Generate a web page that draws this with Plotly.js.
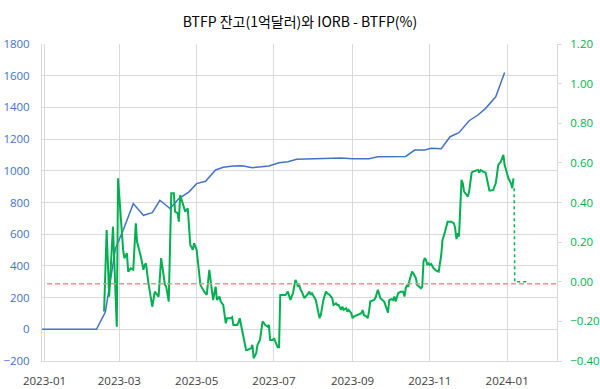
<!DOCTYPE html>
<html>
<head>
<meta charset="utf-8">
<script src="https://cdn.plot.ly/plotly-3.0.1.min.js"></script>
<style>html,body{margin:0;padding:0;background:#fff;}#chart{width:600px;height:389px;}</style>
</head>
<body>
<div id="chart"></div>
<script>
// BTFP balance (units: 100M USD), left axis
const btfpDates = ['2022-12-30','2023-01-11','2023-01-25','2023-02-11','2023-02-18','2023-02-26','2023-03-04','2023-03-12','2023-03-20','2023-03-27','2023-04-02','2023-04-10','2023-04-17','2023-04-25','2023-05-01','2023-05-08','2023-05-16','2023-05-22','2023-05-30','2023-06-06','2023-06-14','2023-06-20','2023-06-27','2023-07-05','2023-07-12','2023-07-19','2023-07-27','2023-08-09','2023-08-23','2023-09-01','2023-09-14','2023-09-21','2023-10-13','2023-10-20','2023-10-28','2023-11-02','2023-11-10','2023-11-17','2023-11-24','2023-12-02','2023-12-09','2023-12-15','2023-12-23','2023-12-30'];
const btfpValues = [0,0,0,0,109,510,625,793,719,736,814,762,825,867,919,934,1005,1022,1030,1032,1020,1024,1030,1051,1057,1073,1074,1076,1081,1076,1076,1089,1091,1131,1131,1142,1139,1215,1240,1316,1352,1394,1467,1620];

// IORB - BTFP spread (%), right axis
const spreadDates = ['2023-02-17','2023-02-19','2023-02-21','2023-02-24','2023-02-27','2023-02-28','2023-03-04','2023-03-05','2023-03-07','2023-03-08','2023-03-10','2023-03-12','2023-03-14','2023-03-15','2023-03-18','2023-03-20','2023-03-21','2023-03-22','2023-03-24','2023-03-27','2023-03-29','2023-03-31','2023-04-01','2023-04-03','2023-04-06','2023-04-07','2023-04-09','2023-04-11','2023-04-13','2023-04-14','2023-04-16','2023-04-17','2023-04-18','2023-04-20','2023-04-22','2023-04-24','2023-04-26','2023-04-28','2023-04-29','2023-05-01','2023-05-04','2023-05-07','2023-05-09','2023-05-11','2023-05-12','2023-05-14','2023-05-16','2023-05-17','2023-05-19','2023-05-20','2023-05-22','2023-05-24','2023-05-25','2023-05-28','2023-05-29','2023-05-30','2023-06-02','2023-06-03','2023-06-04','2023-06-06','2023-06-07','2023-06-09','2023-06-10','2023-06-13','2023-06-14','2023-06-15','2023-06-17','2023-06-18','2023-06-20','2023-06-22','2023-06-23','2023-06-24','2023-06-26','2023-06-27','2023-06-28','2023-06-30','2023-07-01','2023-07-04','2023-07-05','2023-07-06','2023-07-08','2023-07-10','2023-07-12','2023-07-14','2023-07-15','2023-07-16','2023-07-18','2023-07-20','2023-07-21','2023-07-22','2023-07-23','2023-07-25','2023-07-27','2023-07-29','2023-07-30','2023-07-31','2023-08-03','2023-08-04','2023-08-06','2023-08-07','2023-08-09','2023-08-11','2023-08-12','2023-08-14','2023-08-16','2023-08-17','2023-08-19','2023-08-20','2023-08-21','2023-08-23','2023-08-24','2023-08-25','2023-08-27','2023-08-28','2023-08-29','2023-08-31','2023-09-01','2023-09-02','2023-09-05','2023-09-08','2023-09-09','2023-09-10','2023-09-12','2023-09-13','2023-09-14','2023-09-15','2023-09-18','2023-09-19','2023-09-21','2023-09-22','2023-09-23','2023-09-26','2023-09-27','2023-09-29','2023-09-30','2023-10-02','2023-10-03','2023-10-04','2023-10-05','2023-10-07','2023-10-09','2023-10-11','2023-10-12','2023-10-13','2023-10-14','2023-10-15','2023-10-16','2023-10-18','2023-10-19','2023-10-20','2023-10-21','2023-10-22','2023-10-24','2023-10-25','2023-10-26','2023-10-27','2023-10-28','2023-10-29','2023-10-30','2023-10-31','2023-11-01','2023-11-02','2023-11-04','2023-11-06','2023-11-08','2023-11-10','2023-11-11','2023-11-12','2023-11-13','2023-11-15','2023-11-16','2023-11-18','2023-11-20','2023-11-21','2023-11-22','2023-11-23','2023-11-24','2023-11-25','2023-11-26','2023-11-27','2023-11-28','2023-11-30','2023-12-01','2023-12-02','2023-12-03','2023-12-04','2023-12-05','2023-12-07','2023-12-09','2023-12-10','2023-12-11','2023-12-12','2023-12-13','2023-12-15','2023-12-16','2023-12-18','2023-12-19','2023-12-21','2023-12-23','2023-12-24','2023-12-25','2023-12-27','2023-12-29','2023-12-30','2023-12-31','2024-01-01','2024-01-02','2024-01-04','2024-01-05','2024-01-06'];
const spreadValues = [-0.15,0.261,-0.075,0.278,-0.227,0.522,0.161,0.119,0.144,0.051,0.068,0.06,0.295,0.202,0.127,0.06,0.085,0.093,-0.008,-0.126,-0.05,-0.067,-0.075,0.119,-0.016,-0.025,-0.1,0.447,0.447,0.354,0.346,0.303,0.438,0.396,0.354,0.371,0.186,0.161,0.194,0.161,-0.016,-0.05,-0.067,0.06,0.009,-0.092,-0.025,-0.092,-0.075,-0.1,-0.117,-0.21,-0.184,-0.184,-0.179,-0.218,-0.218,-0.206,-0.184,-0.243,-0.269,-0.344,-0.344,-0.336,-0.319,-0.386,-0.361,-0.319,-0.294,-0.201,-0.206,-0.218,-0.227,-0.218,-0.294,-0.294,-0.285,-0.331,-0.331,-0.067,-0.067,-0.067,-0.05,-0.092,-0.075,-0.058,0.009,-0.025,-0.016,-0.041,-0.05,-0.083,-0.067,-0.05,-0.067,-0.058,-0.092,-0.126,-0.184,-0.168,-0.092,-0.05,-0.058,-0.067,-0.083,-0.117,-0.109,-0.117,-0.117,-0.142,-0.126,-0.142,-0.134,-0.151,-0.142,-0.159,-0.184,-0.176,-0.168,-0.159,-0.142,-0.168,-0.176,-0.184,-0.151,-0.1,-0.092,-0.083,-0.041,-0.067,-0.083,-0.1,-0.117,-0.156,-0.092,-0.088,-0.092,-0.075,-0.1,-0.058,-0.05,-0.05,-0.075,-0.033,-0.016,-0.025,0.009,0.051,0.043,0.026,0.018,-0.016,-0.025,-0.033,-0.025,0.101,0.119,0.11,0.085,0.093,0.085,0.09,0.068,0.056,0.051,0.135,0.211,0.228,0.253,0.303,0.303,0.303,0.295,0.27,0.215,0.245,0.228,0.43,0.514,0.497,0.455,0.438,0.43,0.455,0.514,0.551,0.556,0.559,0.564,0.551,0.564,0.561,0.556,0.551,0.514,0.46,0.46,0.463,0.497,0.548,0.59,0.606,0.64,0.59,0.564,0.539,0.522,0.497,0.472,0.522];

// Tail of the spread after the BTFP rate change (dotted)
const tailDates = ['2024-01-06 12:00','2024-01-07','2024-01-17'];
const tailValues = [0.472,0,0];

// Reference line (right axis)
const refDates = ['2023-01-03','2024-02-09'];
const refValues = [-0.01,-0.01];

const titleText = 'BTFP 잔고(1억달러)와 IORB - BTFP(%)';
const xRange = ['2022-12-30','2024-02-09 08:00'];

const tickFontFamily = '"Open Sans", "Noto Sans", sans-serif';

const traces = [
  {x: btfpDates, y: btfpValues, type: 'scatter', mode: 'lines', yaxis: 'y',
   line: {color: '#4472C4', width: 1.5}, hoverinfo: 'skip'},
  {x: spreadDates, y: spreadValues, type: 'scatter', mode: 'lines', yaxis: 'y2',
   line: {color: '#00B050', width: 2}, hoverinfo: 'skip'},
  {x: tailDates, y: tailValues, type: 'scatter', mode: 'lines', yaxis: 'y2',
   line: {color: '#00B050', width: 1.5, dash: 'dot'}, hoverinfo: 'skip'},
  {x: refDates, y: refValues, type: 'scatter', mode: 'lines', yaxis: 'y2',
   line: {color: '#F0908C', width: 1.5, dash: '5px,3px'}, hoverinfo: 'skip'}
];

const layout = {
  width: 600, height: 389,
  margin: {l: 42, r: 43, t: 44, b: 28, pad: 0},
  paper_bgcolor: '#ffffff', plot_bgcolor: '#ffffff',
  showlegend: false,
  title: {text: titleText, x: 0.5, xref: 'container', xanchor: 'center',
          y: 1 - 22/389, yref: 'container', yanchor: 'middle',
          font: {family: '"Noto Sans CJK KR", sans-serif', size: 14, color: '#000000'}},
  xaxis: {type: 'date', range: xRange, tick0: '2023-01-01', dtick: 'M2', tickformat: '%Y-%m',
          showgrid: true, gridcolor: '#D9D9D9', gridwidth: 1, showline: true, linecolor: '#D9D9D9',
          ticks: '', ticklabelstandoff: 9, zeroline: false,
          tickfont: {family: tickFontFamily, size: 11.5, color: '#404040'}},
  yaxis: {range: [-200, 1800], dtick: 200, showgrid: true, gridcolor: '#D9D9D9', gridwidth: 1,
          zeroline: false, showline: true, linecolor: '#D9D9D9', ticks: '', ticklabelstandoff: 9,
          tickfont: {family: tickFontFamily, size: 11.5, color: '#4472C4'}},
  yaxis2: {overlaying: 'y', side: 'right', range: [-0.4, 1.2], dtick: 0.2, tickformat: '.2f',
           showgrid: false, zeroline: false, showline: true, linecolor: '#D9D9D9',
           ticks: 'outside', ticklen: 4, tickcolor: '#D9D9D9', ticklabelstandoff: 6,
           tickfont: {family: tickFontFamily, size: 11.5, color: '#00B050'}}
};

Plotly.newPlot('chart', traces, layout, {staticPlot: true, displayModeBar: false});
</script>
</body>
</html>
